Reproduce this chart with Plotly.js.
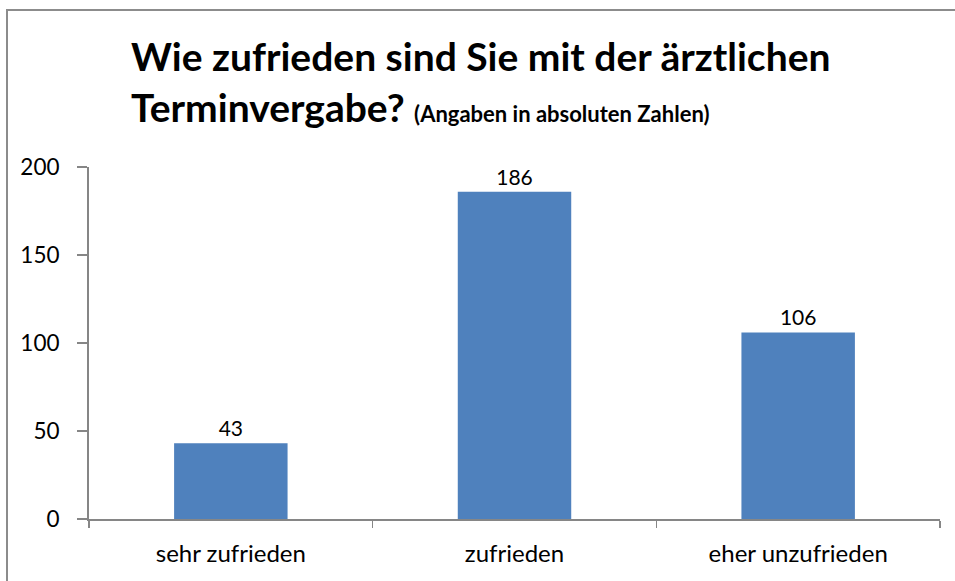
<!DOCTYPE html>
<html>
<head>
<meta charset="utf-8">
<script src="https://cdn.plot.ly/plotly-3.0.1.min.js"></script>
<style>
  html, body { margin: 0; padding: 0; background: #fff; overflow: hidden; }
  #chart { position: absolute; left: 0; top: 0; width: 955px; height: 581px; }
  #frame { position: absolute; left: 6px; top: 9px; width: 960px; height: 590px;
           border-left: 2px solid #8c8c8c; border-top: 2px solid #8c8c8c;
           pointer-events: none; }
</style>
</head>
<body>
<div id="chart"></div>
<div id="frame"></div>
<script>
const categories = ["sehr zufrieden", "zufrieden", "eher unzufrieden"];
const values = [43, 186, 106];
const yTicks = [0, 50, 100, 150, 200];

const FONT = "Lato, 'Open Sans', sans-serif";
const AXIS = "#868686";

const trace = {
  type: "bar",
  x: categories,
  y: values,
  text: values.map(String),
  textposition: "outside",
  cliponaxis: false,
  textfont: { family: FONT, size: 21, color: "#000" },
  marker: { color: "#4F81BD", line: { width: 0 } },
  hoverinfo: "x+y"
};

const layout = {
  width: 955,
  height: 581,
  margin: { l: 89, r: 15, t: 167, b: 62 },
  paper_bgcolor: "#fff",
  plot_bgcolor: "#fff",
  bargap: 0.6,
  showlegend: false,
  font: { family: FONT, color: "#000" },
  title: {
    text: "Wie zufrieden sind Sie mit der ärztlichen<br>Terminvergabe? <span style='font-size:22px'>(Angaben in absoluten Zahlen)</span>",
    font: { family: FONT, size: 39, color: "#000", weight: "bold" },
    xref: "container", yref: "container",
    x: 131 / 955, xanchor: "left",
    y: 1 - 71 / 581, yanchor: "top"
  },
  xaxis: {
    type: "category",
    range: [-0.5, 2.5],
    showline: true, linecolor: AXIS, linewidth: 2,
    ticks: "outside", tickson: "boundaries", ticklen: 7, tickwidth: 1.5, tickcolor: AXIS,
    ticklabelstandoff: 12,
    showgrid: false, zeroline: false,
    tickfont: { family: FONT, size: 24, color: "#000" }
  },
  yaxis: {
    range: [0, 200],
    tickvals: yTicks,
    ticktext: yTicks.map(String),
    showline: true, linecolor: AXIS, linewidth: 2,
    ticks: "outside", ticklen: 10, tickwidth: 1.5, tickcolor: AXIS,
    ticklabelstandoff: 13,
    showgrid: false, zeroline: false,
    tickfont: { family: FONT, size: 22.5, color: "#000" }
  }
};

Plotly.newPlot("chart", [trace], layout, { displayModeBar: false, staticPlot: true });
</script>
</body>
</html>
